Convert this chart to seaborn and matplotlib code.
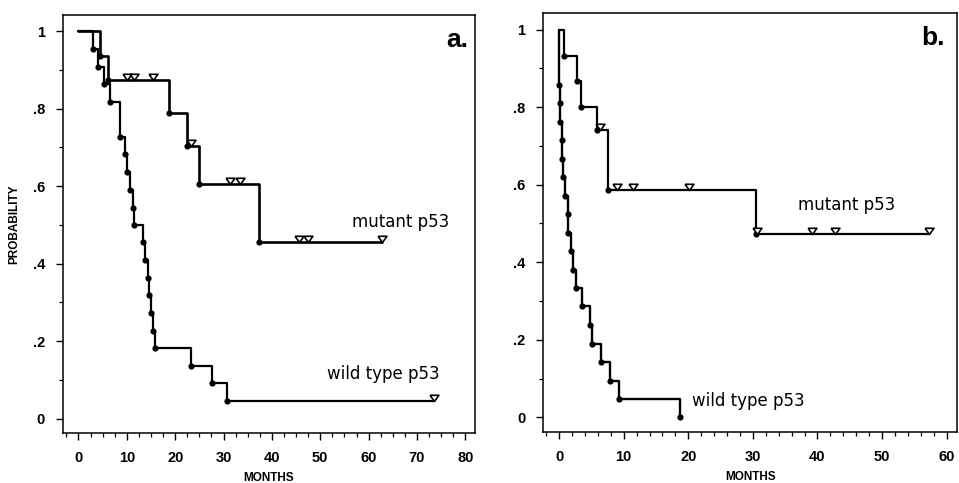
import numpy as np
import pandas as pd
import matplotlib
matplotlib.use("Agg")
import matplotlib.pyplot as plt
import seaborn as sns
from matplotlib.ticker import MultipleLocator

# ---------------- data ----------------
# Panel a
a_mut_event_t = [4.5, 6.2, 18.7, 22.5, 24.9, 37.3]
a_mut_event_s = [0.935, 0.875, 0.788, 0.705, 0.605, 0.457]
a_mut_cens_t = [10.0, 11.5, 15.5, 23.2, 31.3, 33.3, 45.7, 47.4, 62.8]

a_wt_event_t = [3.1, 4.0, 5.2, 6.5, 8.6, 9.6, 10.0, 10.6, 11.2, 11.5,
                13.3, 13.8, 14.3, 14.6, 15.0, 15.5, 15.8, 23.2, 27.7, 30.8]
a_wt_event_s = [0.955, 0.909, 0.864, 0.818, 0.727, 0.682, 0.636, 0.591, 0.545, 0.500,
                0.455, 0.409, 0.364, 0.318, 0.273, 0.227, 0.182, 0.136, 0.091, 0.045]
a_wt_cens_t = [73.5]

# Panel b
b_mut_event_t = [0.7, 2.7, 3.4, 5.8, 7.6, 30.5]
b_mut_event_s = [0.933, 0.867, 0.800, 0.740, 0.587, 0.473]
b_mut_cens_t = [6.4, 8.9, 11.5, 20.1, 30.7, 39.2, 42.7, 57.3]

b_wt_event_t = [0.05, 0.1, 0.2, 0.4, 0.45, 0.6, 0.9, 1.3, 1.4, 1.8,
                2.2, 2.6, 3.5, 4.8, 5.1, 6.5, 7.9, 9.3, 18.7]
b_wt_event_s = [0.857, 0.810, 0.762, 0.714, 0.667, 0.619, 0.571, 0.524, 0.476, 0.429,
                0.381, 0.333, 0.286, 0.238, 0.190, 0.143, 0.095, 0.048, 0.0]
b_wt_cens_t = []

y_ticks = [0, 0.2, 0.4, 0.6, 0.8, 1.0]
y_ticklabels = ["0", ".2", ".4", ".6", ".8", "1"]
a_x_ticks = [0, 10, 20, 30, 40, 50, 60, 70, 80]
b_x_ticks = [0, 10, 20, 30, 40, 50, 60]

# ---------------- style ----------------
sns.set_style("ticks")
plt.rcParams["font.family"] = ["DejaVu Sans"]
for k in ["text.color", "axes.labelcolor", "xtick.color", "ytick.color", "axes.edgecolor"]:
    plt.rcParams[k] = "black"

TICKFONT = dict(family="Liberation Sans", weight="bold", size=10.5)

fig = plt.figure(figsize=(9.59, 4.83), dpi=100)
axA = fig.add_axes([63 / 959, 50 / 483, 412 / 959, 418 / 483])
axB = fig.add_axes([543.3 / 959, 51.3 / 483, 413.7 / 959, 418.4 / 483])

tri = [(-1.0, 1.4), (1.0, 1.4), (0.0, 0.0), (-1.0, 1.4)]


def step_level(ev_t, ev_s, t):
    lvl = 1.0
    for et, es in zip(ev_t, ev_s):
        if et <= t:
            lvl = es
    return lvl


def draw_curve(ax, ev_t, ev_s, cens_t, lw=1.6):
    end = max([ev_t[-1]] + list(cens_t))
    xs = [0.0] + list(ev_t) + [end]
    ys = [1.0] + list(ev_s) + [ev_s[-1]]
    df = pd.DataFrame({"t": xs, "s": ys})
    sns.lineplot(data=df, x="t", y="s", drawstyle="steps-post", estimator=None,
                 sort=False, color="black", lw=lw, ax=ax, zorder=2)
    dev = pd.DataFrame({"t": ev_t, "s": ev_s})
    sns.scatterplot(data=dev, x="t", y="s", marker="o", s=20, color="black",
                    edgecolor="black", linewidth=0, ax=ax, zorder=3)
    if len(cens_t):
        dc = pd.DataFrame({"t": cens_t,
                           "s": [step_level(ev_t, ev_s, c) for c in cens_t]})
        sns.scatterplot(data=dc, x="t", y="s", marker=tri, s=80, color="white",
                        edgecolor="black", linewidth=1.2, ax=ax, zorder=4)


draw_curve(axA, a_mut_event_t, a_mut_event_s, a_mut_cens_t, lw=1.9)
draw_curve(axA, a_wt_event_t, a_wt_event_s, a_wt_cens_t, lw=1.6)
draw_curve(axB, b_mut_event_t, b_mut_event_s, b_mut_cens_t, lw=1.6)
draw_curve(axB, b_wt_event_t, b_wt_event_s, b_wt_cens_t, lw=1.7)

for ax, xt, xlim, xminor in [(axA, a_x_ticks, (-3.2, 82.0), 2.5),
                             (axB, b_x_ticks, (-2.45, 61.6), 2.0)]:
    ax.set_xlim(*xlim)
    ax.set_ylim(-0.037, 1.042)
    ax.set_xticks(xt)
    ax.set_xticklabels([str(v) for v in xt], fontdict=TICKFONT)
    ax.set_yticks(y_ticks)
    ax.set_yticklabels(y_ticklabels, fontdict=TICKFONT)
    ax.xaxis.set_minor_locator(MultipleLocator(xminor))
    ax.yaxis.set_minor_locator(MultipleLocator(0.1))
    ax.tick_params(which="major", direction="out", length=5, width=1.0, pad=8,
                   color="black", labelcolor="black")
    ax.tick_params(which="minor", direction="out", length=3, width=0.9,
                   color="black")
    for sp in ax.spines.values():
        sp.set_visible(True)
        sp.set_linewidth(1.1)
        sp.set_color("black")
    ax.set_xlabel("MONTHS", fontdict=dict(family="Liberation Sans", weight="bold",
                                          size=8.5), labelpad=5, color="black")
    ax.set_ylabel("")

axA.set_ylabel("PROBABILITY", fontdict=dict(family="Liberation Sans", weight="bold",
                                            size=8.5), labelpad=9, color="black")

# panel letters
axA.text(0.983, 0.923, "a.", transform=axA.transAxes, ha="right", va="baseline",
         fontsize=19, fontweight="bold", family="Liberation Sans", color="black")
axB.text(0.971, 0.924, "b.", transform=axB.transAxes, ha="right", va="baseline",
         fontsize=19, fontweight="bold", family="Liberation Sans", color="black")

# curve labels
axA.text(56.6, 0.495, "mutant p53", ha="left", va="baseline", fontsize=12, color="black")
axA.text(51.3, 0.103, "wild type p53", ha="left", va="baseline", fontsize=12, color="black")
axB.text(37.0, 0.535, "mutant p53", ha="left", va="baseline", fontsize=12, color="black")
axB.text(20.6, 0.030, "wild type p53", ha="left", va="baseline", fontsize=12, color="black")

fig.savefig("out.png", dpi=100)
